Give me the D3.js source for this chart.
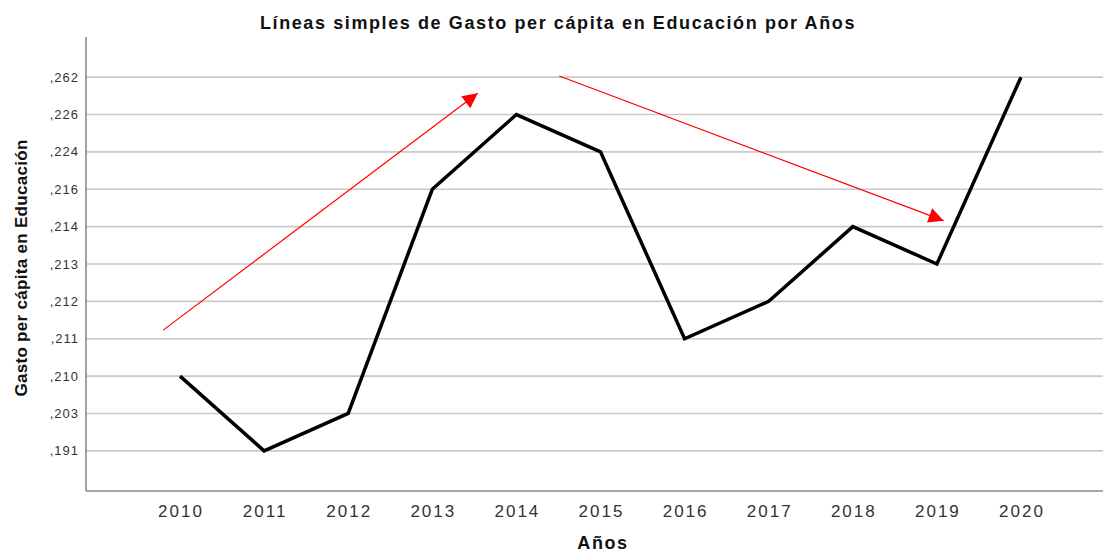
<!DOCTYPE html>
<html>
<head>
<meta charset="utf-8">
<script src="https://cdn.jsdelivr.net/npm/d3@7"></script>
<style>
  body { margin: 0; background: #fff; }
  text { font-family: "Liberation Sans", Arial, sans-serif; }
</style>
</head>
<body>
<svg id="chart" width="1103" height="554"></svg>
<script>
// categorias del eje Y (SPSS las trata como categorias, equiespaciadas)
var yCats = [",191", ",203", ",210", ",211", ",212", ",213", ",214", ",216", ",224", ",226", ",262"];
var years = [2010, 2011, 2012, 2013, 2014, 2015, 2016, 2017, 2018, 2019, 2020];
var gasto = [",210", ",191", ",203", ",216", ",226", ",224", ",211", ",212", ",214", ",213", ",262"];

// flechas rojas de tendencia: [anio, indice categoria]
var arrowUp = [[2009.8, 3.23], [2013.54, 9.57]];
var arrowDown = [[2014.51, 10.03], [2019.08, 6.16]];

var svg = d3.select("#chart");
var margin = {top: 37, right: 0, bottom: 63, left: 86},
    width = 1103 - margin.left - margin.right,
    height = 554 - margin.top - margin.bottom;

var g = svg.append("g").attr("transform", "translate(" + margin.left + "," + margin.top + ")");

// primer anio a 94px del eje, paso ~84px
var step = 84.1;
var x = d3.scaleLinear().domain([2010, 2020]).range([94, 94 + step * 10]);

var y = d3.scalePoint().domain(yCats).range([height, 0]).padding(1.075);
var yIdx = d3.scaleLinear().domain([0, yCats.length - 1]).range([y(yCats[0]), y(yCats[yCats.length - 1])]);

// lineas de cuadricula
g.selectAll(".grid")
    .data(yCats)
    .enter()
    .append("line")
    .attr("class", "grid")
    .attr("x1", 0)
    .attr("x2", width)
    .attr("y1", function(d){ return y(d); })
    .attr("y2", function(d){ return y(d); })
    .attr("stroke", "#c9c9c9")
    .attr("stroke-width", 1.6);

// ejes
g.append("line").attr("x1", 0).attr("x2", 0).attr("y1", 0).attr("y2", height)
    .attr("stroke", "#8a8a8a").attr("stroke-width", 1.6);
g.append("line").attr("x1", 0).attr("x2", width).attr("y1", height).attr("y2", height)
    .attr("stroke", "#8a8a8a").attr("stroke-width", 1.6);

g.selectAll(".ylab")
    .data(yCats)
    .enter()
    .append("text")
    .attr("class", "ylab")
    .attr("x", -7)
    .attr("y", function(d){ return y(d); })
    .attr("dy", "0.35em")
    .attr("text-anchor", "end")
    .attr("font-size", "13px")
    .attr("letter-spacing", "1px")
    .attr("fill", "#333")
    .text(function(d){ return d; });

g.selectAll(".xlab")
    .data(years)
    .enter()
    .append("text")
    .attr("class", "xlab")
    .attr("x", function(d){ return x(d) + 1; })
    .attr("y", height + 26)
    .attr("text-anchor", "middle")
    .attr("font-size", "17px")
    .attr("letter-spacing", "2px")
    .attr("fill", "#333")
    .text(function(d){ return d; });

// serie
var line = d3.line()
    .x(function(d, i){ return x(years[i]); })
    .y(function(d){ return y(d); });

g.append("path")
    .datum(gasto)
    .attr("d", line)
    .attr("fill", "none")
    .attr("stroke", "#000")
    .attr("stroke-width", 3.5)
    .attr("stroke-linejoin", "miter");

// flechas
svg.append("defs").append("marker")
    .attr("id", "head")
    .attr("viewBox", "0 0 10 10")
    .attr("refX", 10)
    .attr("refY", 5)
    .attr("markerUnits", "userSpaceOnUse")
    .attr("markerWidth", 18)
    .attr("markerHeight", 15)
    .attr("orient", "auto")
    .append("path")
    .attr("d", "M0,0 L10,5 L0,10 Z")
    .attr("fill", "#ff0000");

[arrowUp, arrowDown].forEach(function(a){
    g.append("line")
        .attr("x1", x(a[0][0]))
        .attr("y1", yIdx(a[0][1]))
        .attr("x2", x(a[1][0]))
        .attr("y2", yIdx(a[1][1]))
        .attr("stroke", "#ff0000")
        .attr("stroke-width", 1.2)
        .attr("marker-end", "url(#head)");
});

// titulos
svg.append("text")
    .attr("x", 558)
    .attr("y", 29)
    .attr("text-anchor", "middle")
    .attr("font-size", "18px")
    .attr("font-weight", "bold")
    .attr("letter-spacing", "1.6px")
    .attr("fill", "#111")
    .text("Líneas simples de Gasto per cápita en Educación por Años");

svg.append("text")
    .attr("x", 603)
    .attr("y", 549)
    .attr("text-anchor", "middle")
    .attr("font-size", "18px")
    .attr("font-weight", "bold")
    .attr("letter-spacing", "1.6px")
    .attr("fill", "#111")
    .text("Años");

svg.append("text")
    .attr("transform", "translate(27," + (margin.top + y(yCats[5]) + 4) + ") rotate(-90)")
    .attr("text-anchor", "middle")
    .attr("font-size", "17px")
    .attr("font-weight", "bold")
    .attr("letter-spacing", "0.3px")
    .attr("fill", "#111")
    .text("Gasto per cápita en Educación");
</script>
</body>
</html>
